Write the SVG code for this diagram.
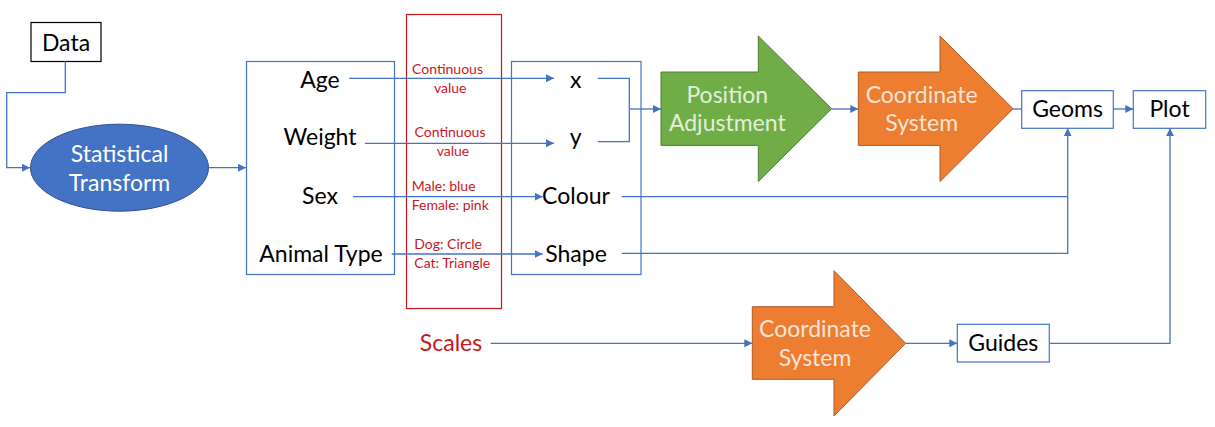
<svg xmlns="http://www.w3.org/2000/svg" width="1215" height="427" viewBox="0 0 1215 427">
<style>
text{font-family:Lato,"Liberation Sans",sans-serif;}
.big{font-size:23px;fill:#000;}
.mid{text-anchor:middle;}
.red{fill:#C8161D;}
.sm{font-size:14px;}
.box{fill:#fff;stroke:#4472C4;stroke-width:1.2;}
.frame{fill:none;stroke:#4472C4;stroke-width:1.2;}
.conn{fill:none;stroke:#4472C4;stroke-width:1.3;}
.arr{marker-end:url(#ah);}
.green{fill:#70AD47;stroke:#507E32;stroke-width:1;}
.orange{fill:#ED7D31;stroke:#AE5A21;stroke-width:1;}
.gt{fill:#E2EFD9;font-size:23px;}
.ot{fill:#FBE5D6;font-size:23px;}
</style>
<defs>
<marker id="ah" markerUnits="userSpaceOnUse" markerWidth="9" markerHeight="8" refX="8" refY="4" orient="auto">
<path d="M0,0 L8,4 L0,8 Z" fill="#4472C4"/>
</marker>
</defs>
<rect width="1215" height="427" fill="#fff"/>
<g id="data">
<rect x="31" y="22.5" width="70" height="39" fill="#fff" stroke="#000" stroke-width="1.2"/>
<text class="big mid" x="66" y="50.5">Data</text>
</g>
<g id="stat">
<ellipse cx="119.5" cy="167.7" rx="89" ry="43.5" fill="#4472C4" stroke="#2F528F" stroke-width="1"/>
<text class="mid" x="119.5" y="162" font-size="23" fill="#fff">Statistical</text>
<text class="mid" x="119.5" y="190.5" font-size="23" fill="#fff">Transform</text>
</g>
<g id="variables">
<rect class="frame" x="246.5" y="61.5" width="148" height="213"/>
<text class="big mid" x="320" y="88">Age</text>
<text class="big mid" x="320" y="145">Weight</text>
<text class="big mid" x="320" y="204">Sex</text>
<text class="big mid" x="321" y="261.5">Animal Type</text>
</g>
<g id="scales-box">
<rect x="406.5" y="14.5" width="95" height="294" fill="none" stroke="#C8161D" stroke-width="1.2"/>
<text class="red sm mid" x="447.5" y="73.5">Continuous</text>
<text class="red sm mid" x="450.2" y="92.5">value</text>
<text class="red sm mid" x="450" y="136.5">Continuous</text>
<text class="red sm mid" x="453" y="155.5">value</text>
<text class="red sm" x="411.7" y="191">Male: blue</text>
<text class="red sm" x="411.7" y="210">Female: pink</text>
<text class="red sm" x="414.3" y="249.3">Dog: Circle</text>
<text class="red sm" x="414.3" y="268">Cat: Triangle</text>
</g>
<g id="aesthetics">
<rect class="frame" x="511.5" y="61.5" width="129.5" height="213"/>
<text class="big mid" x="575.7" y="88">x</text>
<text class="big mid" x="575.7" y="145">y</text>
<text class="big mid" x="576" y="204">Colour</text>
<text class="big mid" x="576" y="261.5">Shape</text>
</g>
<g id="position">
<polygon class="green" points="661,72 758.3,72 758.3,36 831.7,108.7 758.3,181.5 758.3,145.4 661,145.4"/>
<text class="gt mid" x="727.3" y="103">Position</text>
<text class="gt mid" x="727.3" y="131">Adjustment</text>
</g>
<g id="coord-top">
<polygon class="orange" points="858.3,72 940,72 940,36 1013,108.7 940,181.5 940,145.4 858.3,145.4"/>
<text class="ot mid" x="921.7" y="103">Coordinate</text>
<text class="ot mid" x="921.7" y="131">System</text>
</g>
<g id="geoms">
<rect class="box" x="1021.7" y="90.7" width="91.6" height="37.6"/>
<text class="big mid" x="1067.5" y="117">Geoms</text>
</g>
<g id="plot">
<rect class="box" x="1133.3" y="90.7" width="72.4" height="37.6"/>
<text class="big mid" x="1169.5" y="117">Plot</text>
</g>
<g id="scales">
<text class="red mid" x="451" y="351" font-size="23">Scales</text>
</g>
<g id="coord-bottom">
<polygon class="orange" points="752.3,306.7 834,306.7 834,270.7 905.7,343.3 834,416 834,379.3 752.3,379.3"/>
<text class="ot mid" x="815" y="337">Coordinate</text>
<text class="ot mid" x="815" y="366">System</text>
</g>
<g id="guides">
<rect class="box" x="957.3" y="324.3" width="92" height="37.7"/>
<text class="big mid" x="1003.3" y="351">Guides</text>
</g>
<g id="connectors">
<path class="conn arr" d="M65.3,61.3 V92.7 H6.7 V167.7 H30"/>
<path class="conn arr" d="M209,167.7 H246"/>
<path class="conn arr" d="M349,78.3 H554"/>
<path class="conn arr" d="M365,143.3 H554"/>
<path class="conn arr" d="M353,196.7 H542.7"/>
<path class="conn arr" d="M391.7,254 H542.7"/>
<path class="conn" d="M597.7,78.3 H629.3 V141.7 H597.7"/>
<path class="conn arr" d="M629.3,109 H661"/>
<path class="conn arr" d="M831.7,109 H858.3"/>
<path class="conn" d="M1013,109 H1021.7"/>
<path class="conn arr" d="M1113.3,109 H1133.3"/>
<path class="conn" d="M621.7,196.7 H1067.7"/>
<path class="conn arr" d="M621.7,253.3 H1067.7 V128.3"/>
<path class="conn arr" d="M490.7,343.3 H752.3"/>
<path class="conn arr" d="M905.7,343.3 H957.3"/>
<path class="conn arr" d="M1050,343.3 H1170 V128.3"/>
</g>
</svg>
